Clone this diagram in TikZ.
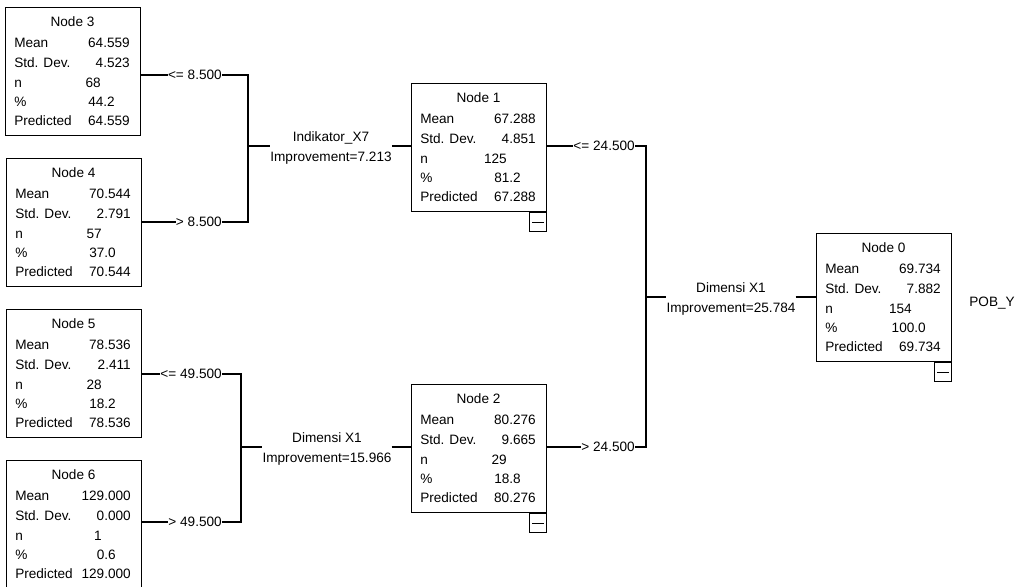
\documentclass[tikz,border=0pt]{standalone}
\usepackage{fontspec}
\setmainfont{Liberation Sans}
\usetikzlibrary{calc}
\tikzset{
  statbox/.style={draw=black, line width=0.9pt, rectangle, minimum width=101.25pt, minimum height=96pt, inner sep=0pt, anchor=north west},
  txt/.style={inner sep=0pt, font=\fontsize{10.2}{12}\selectfont},
  conn/.style={draw=black, line width=0.8pt},
  minusbox/.style={draw=black, line width=0.9pt, rectangle, minimum width=12.75pt, minimum height=14pt, inner sep=0pt, anchor=north east},
}
\newcommand{\statnode}[9]{%
  \node[statbox] (#1) at (#2,#3) {};
  \node[txt, anchor=base] (#1-t) at ($(#1.north west)+(67.5,19)$) {#4};
  \node[txt, anchor=base west] (#1-l1) at ($(#1.north west)+(9,40)$) {Mean};
  \node[txt, anchor=base west] (#1-l2) at ($(#1.north west)+(9,60)$) {Std. Dev.};
  \node[txt, anchor=base west] (#1-l3) at ($(#1.north west)+(9,80)$) {n};
  \node[txt, anchor=base west] (#1-l4) at ($(#1.north west)+(9,99)$) {\%};
  \node[txt, anchor=base west] (#1-l5) at ($(#1.north west)+(9,118)$) {Predicted};
  \node[txt, anchor=base east] (#1-v1) at ($(#1.north west)+(125,40)$) {#5};
  \node[txt, anchor=base east] (#1-v2) at ($(#1.north west)+(125,60)$) {#6};
  \node[txt, anchor=base east] (#1-v3) at ($(#1.north west)+(96,80)$) {#7};
  \node[txt, anchor=base east] (#1-v4) at ($(#1.north west)+(110,99)$) {#8};
  \node[txt, anchor=base east] (#1-v5) at ($(#1.north west)+(125,118)$) {#9};
}
\newcommand{\minusmark}[1]{%
  \node[minusbox] (#1-m) at (#1.south east) {};
  \draw[line width=0.9pt] ([xshift=2.25pt]#1-m.west) -- ([xshift=-2.25pt]#1-m.east);
}
\begin{document}
\begin{tikzpicture}[x=0.75pt, y=-0.75pt]
\path[fill=white, use as bounding box] (0,0) rectangle (1017,586);

\statnode{n3}{5}{7}{Node 3}{64.559}{4.523}{68}{44.2}{64.559}
\statnode{n4}{6}{158}{Node 4}{70.544}{2.791}{57}{37.0}{70.544}
\statnode{n5}{6}{309}{Node 5}{78.536}{2.411}{28}{18.2}{78.536}
\statnode{n6}{6}{460}{Node 6}{129.000}{0.000}{1}{0.6}{129.000}
\statnode{n1}{411}{83}{Node 1}{67.288}{4.851}{125}{81.2}{67.288}
\statnode{n2}{411}{384}{Node 2}{80.276}{9.665}{29}{18.8}{80.276}
\statnode{n0}{816}{233}{Node 0}{69.734}{7.882}{154}{100.0}{69.734}
\minusmark{n1}
\minusmark{n2}
\minusmark{n0}

% Node 3 / Node 4 split
\node[txt, anchor=east] (e3) at (222,75) {<= 8.500};
\node[txt, anchor=east] (e4) at (222,222) {> 8.500};
\coordinate (j34a) at (248,75);
\coordinate (j34b) at (248,222);
\coordinate (j34) at (248,146);
\draw[conn] (e3.west -| n3.east) -- (e3.west);
\draw[conn] (e3.east) -- (j34a) -- (j34b) -- (e4.east);
\draw[conn] (e4.west) -- (e4.west -| n4.east);
\node[txt, anchor=base] (s1a) at (331,141) {Indikator\_X7};
\node[txt, anchor=base] (s1b) at (331,161) {Improvement=7.213};
\draw[conn] (j34) -- (j34 -| s1b.west);
\draw[conn] (j34 -| s1b.east) -- (j34 -| n1.west);

% Node 5 / Node 6 split
\node[txt, anchor=east] (e5) at (222,374) {<= 49.500};
\node[txt, anchor=east] (e6) at (222,522) {> 49.500};
\coordinate (j56a) at (241,374);
\coordinate (j56b) at (241,522);
\coordinate (j56) at (241,447);
\draw[conn] (e5.west -| n5.east) -- (e5.west);
\draw[conn] (e5.east) -- (j56a) -- (j56b) -- (e6.east);
\draw[conn] (e6.west) -- (e6.west -| n6.east);
\node[txt, anchor=base] (s2a) at (327,442) {Dimensi X1};
\node[txt, anchor=base] (s2b) at (327,462) {Improvement=15.966};
\draw[conn] (j56) -- (j56 -| s2b.west);
\draw[conn] (j56 -| s2b.east) -- (j56 -| n2.west);

% Node 1 / Node 2 split
\node[txt, anchor=east] (e1) at (635,146) {<= 24.500};
\node[txt, anchor=east] (e2) at (635,447) {> 24.500};
\coordinate (j12a) at (646,146);
\coordinate (j12b) at (646,447);
\coordinate (j12) at (646,297);
\draw[conn] (e1.west -| n1.east) -- (e1.west);
\draw[conn] (e1.east) -- (j12a) -- (j12b) -- (e2.east);
\draw[conn] (e2.west) -- (e2.west -| n2.east);
\node[txt, anchor=base] (s0a) at (731,292) {Dimensi X1};
\node[txt, anchor=base] (s0b) at (731,312) {Improvement=25.784};
\draw[conn] (j12) -- (j12 -| s0b.west);
\draw[conn] (j12 -| s0b.east) -- (j12 -| n0.west);

\node[txt, anchor=base east] (pob) at (1015,306) {POB\_Y};
\end{tikzpicture}
\end{document}
